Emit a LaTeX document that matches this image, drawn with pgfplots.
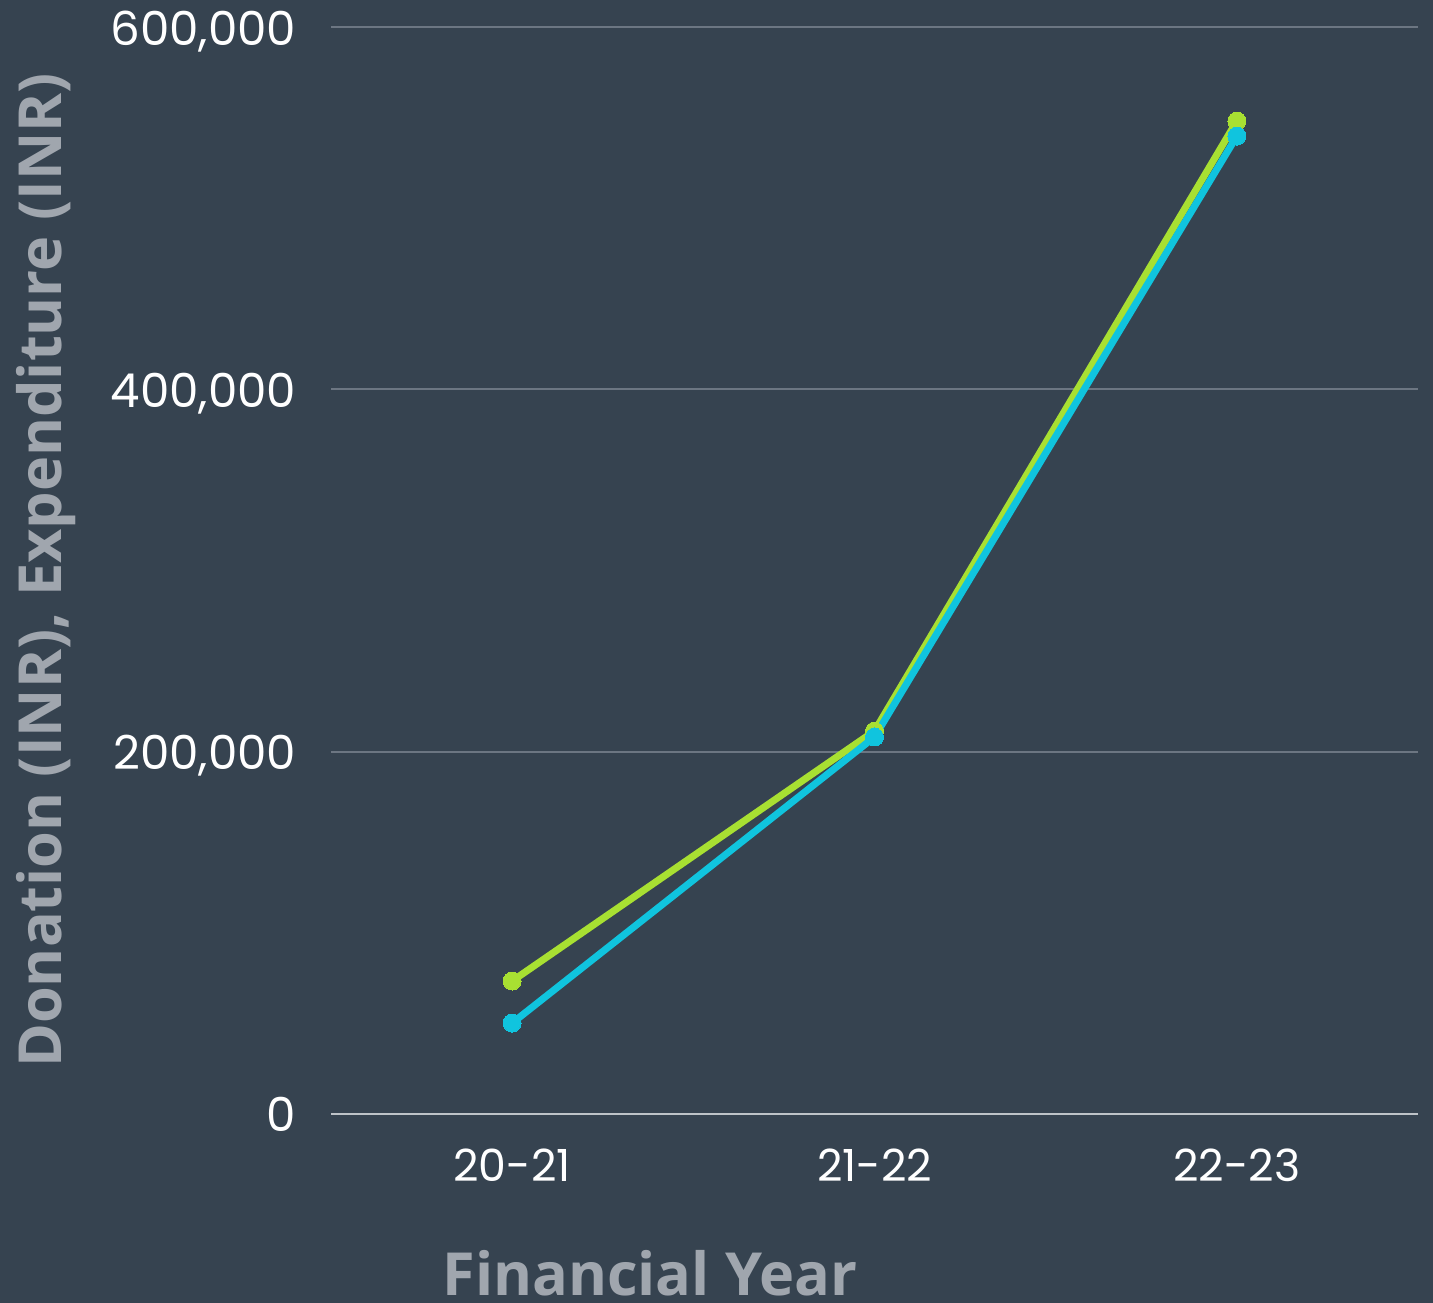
\documentclass[border=0pt]{standalone}
\usepackage{pgfplots}
\pgfplotsset{compat=1.18}
\usepackage{fontspec}
\setmainfont{Open Sans}
\newfontfamily\tickfont{Poppins}
\definecolor{bg}{RGB}{54,67,80}
\definecolor{gridc}{RGB}{108,118,130}
\definecolor{zeroc}{RGB}{190,195,200}
\definecolor{labc}{RGB}{160,166,174}
\definecolor{greenc}{RGB}{168,224,50}
\definecolor{bluec}{RGB}{16,196,222}
\begin{document}
\begin{tikzpicture}
\fill[bg] (0,0) rectangle (143.3mm,130.3mm);
\begin{axis}[
  at={(33.1mm,18.9mm)}, anchor=south west,
  scale only axis, width=108.7mm, height=108.7mm,
  xmin=-0.5, xmax=2.5, ymin=0, ymax=600000,
  scaled y ticks=false,
  xtick={0,1,2}, xticklabels={20-21,21-22,22-23},
  ytick={0,200000,400000,600000},
  yticklabels={0,{200,000},{400,000},{600,000}},
  axis line style={draw=none},
  major tick length=0pt,
  ymajorgrids, grid style={gridc, line width=0.6pt},
  yticklabel style={inner sep=0pt, xshift=-3.4mm, yshift=-1.8mm, anchor=base east, font=\tickfont\fontsize{13.3pt}{15pt}\selectfont},
  xticklabel style={inner sep=0pt, yshift=-3.4mm, anchor=north, font=\tickfont\fontsize{12.6pt}{15pt}\selectfont},
  tick label style={white},
  xlabel={Financial Year},
  ylabel={Donation (INR), Expenditure (INR)},
  label style={labc, font=\fontsize{16.9pt}{20pt}\selectfont\bfseries, inner sep=0pt},
  xlabel style={at={(axis description cs:0.2935,-0.1674)}, anchor=base},
  ylabel style={at={(axis description cs:-0.2475,0.5)}, anchor=base},
  clip=false,
]
\draw[zeroc, line width=0.8pt] (axis cs:-0.5,0) -- (axis cs:2.5,0);
\addplot[greenc, line width=2pt, mark=*, mark size=0.9mm, mark options={fill=greenc, draw=greenc, line width=0pt}]
  coordinates {(0,73400) (1,211400) (2,548100)};
\addplot[bluec, line width=2pt, mark=*, mark size=0.9mm, mark options={fill=bluec, draw=bluec, line width=0pt}]
  coordinates {(0,50200) (1,208100) (2,539800)};
\end{axis}
\pgfresetboundingbox
\path (0,0) rectangle (143.3mm,130.3mm);
\end{tikzpicture}
\end{document}
